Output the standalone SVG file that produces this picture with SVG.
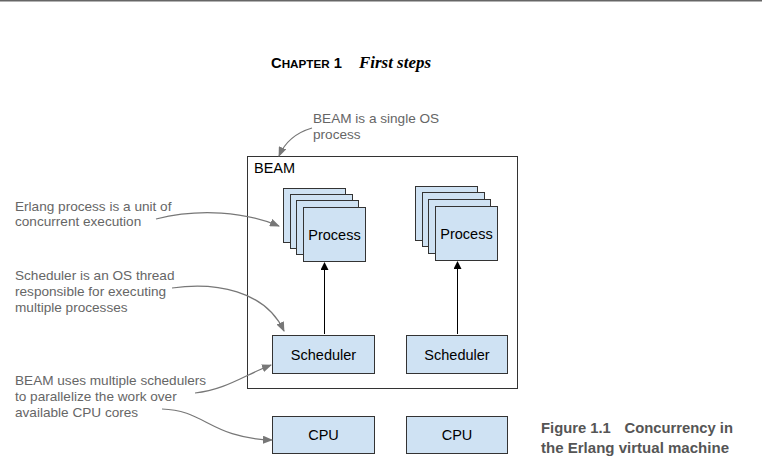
<svg xmlns="http://www.w3.org/2000/svg" width="762" height="474" viewBox="0 0 762 474">
<defs>
<style>
.box{fill:#cfe2f3;stroke:#333;stroke-width:1}
.t{font-family:"Liberation Sans",Arial,sans-serif;font-size:14.5px;fill:#000}
.c{text-anchor:middle}
.note{font-family:"Liberation Sans",Arial,sans-serif;font-size:13.6px;fill:#666}
.ann{fill:none;stroke:#777;stroke-width:1.2}
.arr{fill:none;stroke:#000;stroke-width:1}
.cap{font-family:"Liberation Sans",Arial,sans-serif;font-weight:bold;font-size:15px;fill:#555}
</style>
<marker id="ga" markerWidth="10" markerHeight="8" refX="9" refY="4" orient="auto" markerUnits="userSpaceOnUse">
<path d="M0,0 L10,4 L0,8 z" fill="#777"/>
</marker>
<marker id="ba" markerWidth="8" markerHeight="10" refX="7" refY="4" orient="auto" markerUnits="userSpaceOnUse">
<path d="M0,0 L8,4 L0,8 z" fill="#000"/>
</marker>
</defs>
<rect width="762" height="474" fill="#fff"/>
<line x1="0" y1="0.8" x2="762" y2="0.8" stroke="#666" stroke-width="1.6"/>
<g id="header">
<text x="271" y="68" font-family="Liberation Sans,Arial,sans-serif" font-weight="bold" font-size="14.5" fill="#000" textLength="71" lengthAdjust="spacingAndGlyphs">C<tspan font-size="11.5">HAPTER</tspan> 1</text>
<text x="359" y="68" font-family="Liberation Serif,Times New Roman,serif" font-weight="bold" font-style="italic" font-size="17" fill="#000" textLength="72" lengthAdjust="spacingAndGlyphs">First steps</text>
</g>
<g id="beam">
<rect x="247.5" y="156.5" width="270" height="232" fill="none" stroke="#333" stroke-width="1"/>
<text class="t" x="254" y="173">BEAM</text>
</g>
<g id="process1">
<rect class="box" x="283.5" y="188.5" width="62" height="54"/>
<rect class="box" x="290.5" y="194.5" width="62" height="54"/>
<rect class="box" x="296.5" y="200.5" width="62" height="54"/>
<rect class="box" x="303.5" y="207.5" width="62" height="54"/>
<text class="t c" x="334.5" y="240">Process</text>
</g>
<g id="process2">
<rect class="box" x="415.5" y="186.5" width="62" height="54"/>
<rect class="box" x="422.5" y="192.5" width="62" height="54"/>
<rect class="box" x="428.5" y="199.5" width="62" height="54"/>
<rect class="box" x="435.5" y="206.5" width="62" height="54"/>
<text class="t c" x="466.5" y="239">Process</text>
</g>
<g id="scheduler1">
<rect class="box" x="272.5" y="335.5" width="102" height="38"/>
<text class="t c" x="323.5" y="360">Scheduler</text>
</g>
<g id="scheduler2">
<rect class="box" x="406.5" y="335.5" width="101" height="38"/>
<text class="t c" x="457" y="360">Scheduler</text>
</g>
<g id="cpu1">
<rect class="box" x="272.5" y="416.5" width="102" height="37"/>
<text class="t c" x="323.5" y="440">CPU</text>
</g>
<g id="cpu2">
<rect class="box" x="406.5" y="416.5" width="101" height="37"/>
<text class="t c" x="457" y="440">CPU</text>
</g>
<g id="notes">
<text class="note" x="313" y="123">BEAM is a single OS</text>
<text class="note" x="313" y="139">process</text>
<text class="note" x="15" y="211">Erlang process is a unit of</text>
<text class="note" x="15" y="226">concurrent execution</text>
<text class="note" x="15" y="280">Scheduler is an OS thread</text>
<text class="note" x="15" y="296">responsible for executing</text>
<text class="note" x="15" y="312">multiple processes</text>
<text class="note" x="15" y="385">BEAM uses multiple schedulers</text>
<text class="note" x="15" y="401">to parallelize the work over</text>
<text class="note" x="15" y="417">available CPU cores</text>
</g>
<g id="connectors">
<line class="arr" x1="324.5" y1="334" x2="324.5" y2="263" marker-end="url(#ba)"/>
<line class="arr" x1="457.5" y1="334" x2="457.5" y2="262" marker-end="url(#ba)"/>
<path class="ann" d="M312,128 C295,133 285,142 279,156" marker-end="url(#ga)"/>
<path class="ann" d="M156,219 C200,208 245,212 279,226" marker-end="url(#ga)"/>
<path class="ann" d="M172,288 C215,282 265,290 284,331" marker-end="url(#ga)"/>
<path class="ann" d="M195,393 C225,390 245,375 271,365" marker-end="url(#ga)"/>
<path class="ann" d="M162,409 C205,410 210,438 272,440" marker-end="url(#ga)"/>
</g>
<g id="caption">
<text class="cap" x="541" y="433" textLength="192" lengthAdjust="spacingAndGlyphs">Figure 1.1<tspan dx="14">Concurrency in</tspan></text>
<text class="cap" x="541" y="453" textLength="188" lengthAdjust="spacingAndGlyphs">the Erlang virtual machine</text>
</g>
</svg>
